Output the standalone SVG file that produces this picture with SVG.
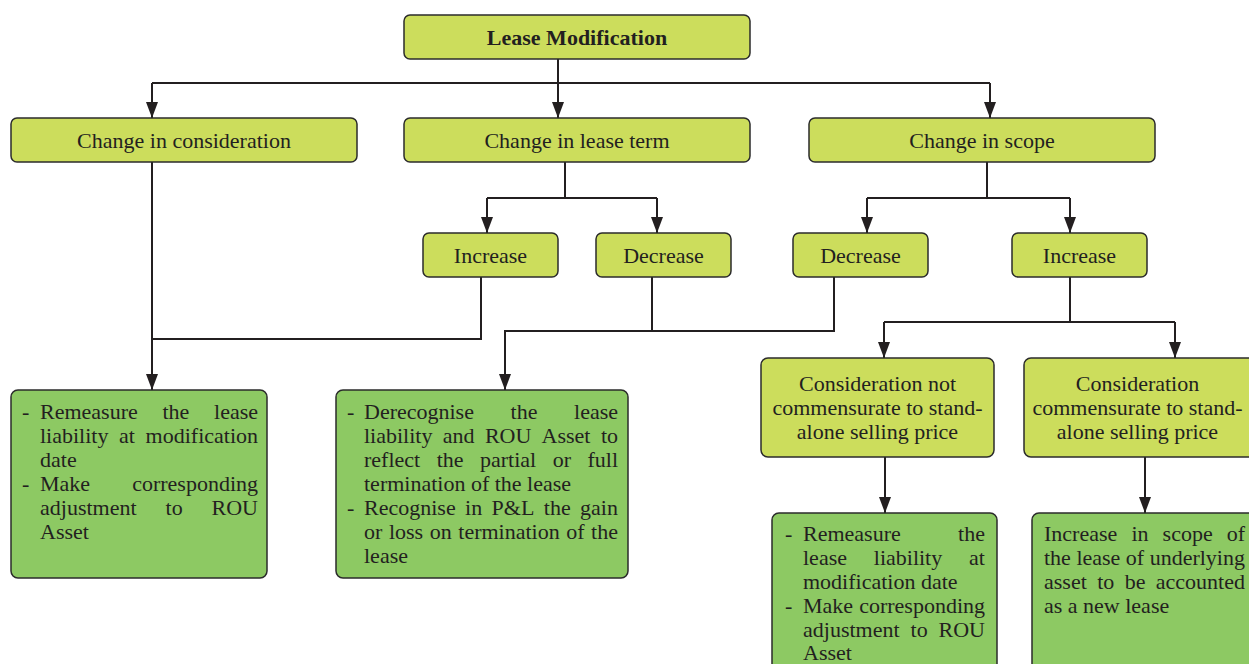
<svg xmlns="http://www.w3.org/2000/svg" width="1249" height="664" viewBox="0 0 1249 664">
<defs>
<style>
.lime{fill:#CCDD5C;stroke:#2b2b2b;stroke-width:1.5}
.grn{fill:#8DC963;stroke:#2b2b2b;stroke-width:1.5}
text{font-family:"Liberation Serif","Times New Roman",serif;font-size:22px;fill:#231F20}
.c{text-anchor:middle}
.e{text-anchor:end}
.b{font-weight:bold;font-size:22px}
.con{fill:none;stroke:#231F20;stroke-width:2}
</style>
<marker id="ar" viewBox="0 0 16 12" refX="16" refY="6" markerWidth="16" markerHeight="12" markerUnits="userSpaceOnUse" orient="auto">
<path d="M0,0 L16,6 L0,12 z" fill="#231F20"/>
</marker>
</defs>
<rect width="1249" height="664" fill="#fff"/>

<g id="connectors">
<path class="con" d="M558,59 V83 M152,83 H990"/>
<path class="con" d="M152,83 V118" marker-end="url(#ar)"/>
<path class="con" d="M558,83 V118" marker-end="url(#ar)"/>
<path class="con" d="M990,83 V118" marker-end="url(#ar)"/>
<path class="con" d="M152,162 V390" marker-end="url(#ar)"/>
<path class="con" d="M481,277 V339 H152"/>
<path class="con" d="M565,162 V198 M487,198 H657"/>
<path class="con" d="M487,198 V233" marker-end="url(#ar)"/>
<path class="con" d="M657,198 V233" marker-end="url(#ar)"/>
<path class="con" d="M652,277 V331"/>
<path class="con" d="M834,277 V331 H505 V390" marker-end="url(#ar)"/>
<path class="con" d="M987,162 V198 M867,198 H1070"/>
<path class="con" d="M867,198 V233" marker-end="url(#ar)"/>
<path class="con" d="M1070,198 V233" marker-end="url(#ar)"/>
<path class="con" d="M1070,277 V322 M884,322 H1175"/>
<path class="con" d="M884,322 V358" marker-end="url(#ar)"/>
<path class="con" d="M1175,322 V358" marker-end="url(#ar)"/>
<path class="con" d="M885,457 V513" marker-end="url(#ar)"/>
<path class="con" d="M1145,457 V513" marker-end="url(#ar)"/>
</g>

<g id="lease-modification">
<rect class="lime" x="404" y="15" width="346" height="44" rx="6"/>
<text class="c b" x="577" y="45">Lease Modification</text>
</g>

<g id="change-consideration">
<rect class="lime" x="11" y="118" width="346" height="44" rx="6"/>
<text class="c" x="184" y="148">Change in consideration</text>
</g>
<g id="change-term">
<rect class="lime" x="404" y="118" width="346" height="44" rx="6"/>
<text class="c" x="577" y="148">Change in lease term</text>
</g>
<g id="change-scope">
<rect class="lime" x="809" y="118" width="346" height="44" rx="6"/>
<text class="c" x="982" y="148">Change in scope</text>
</g>

<g id="term-increase">
<rect class="lime" x="423" y="233" width="135" height="44" rx="6"/>
<text class="c" x="490.5" y="263">Increase</text>
</g>
<g id="term-decrease">
<rect class="lime" x="596" y="233" width="135" height="44" rx="6"/>
<text class="c" x="663.5" y="263">Decrease</text>
</g>
<g id="scope-decrease">
<rect class="lime" x="793" y="233" width="135" height="44" rx="6"/>
<text class="c" x="860.5" y="263">Decrease</text>
</g>
<g id="scope-increase">
<rect class="lime" x="1012" y="233" width="135" height="44" rx="6"/>
<text class="c" x="1079.5" y="263">Increase</text>
</g>

<g id="not-commensurate">
<rect class="lime" x="761" y="358" width="233" height="99" rx="7"/>
<text class="c" x="877.5" y="391">Consideration not</text>
<text class="c" x="877.5" y="415">commensurate to stand-</text>
<text class="c" x="877.5" y="439">alone selling price</text>
</g>
<g id="commensurate">
<rect class="lime" x="1024" y="358" width="232" height="99" rx="7"/>
<text class="c" x="1137.5" y="391">Consideration</text>
<text class="c" x="1137.5" y="415">commensurate to stand-</text>
<text class="c" x="1137.5" y="439">alone selling price</text>
</g>

<g id="remeasure-left">
<rect class="grn" x="11" y="390" width="256" height="188" rx="7"/>
<text x="22" y="419">-</text>
<text y="419"><tspan x="40">Remeasure</tspan><tspan x="162.4">the</tspan></text>
<text class="e" x="258" y="419">lease</text>
<text y="443"><tspan x="40">liability</tspan><tspan x="119.1">at</tspan></text>
<text class="e" x="258" y="443">modification</text>
<text x="40" y="467">date</text>
<text x="22" y="491">-</text>
<text x="40" y="491">Make</text>
<text class="e" x="258" y="491">corresponding</text>
<text y="515"><tspan x="40">adjustment</tspan><tspan x="165.6">to</tspan></text>
<text class="e" x="258" y="515">ROU</text>
<text x="40" y="539">Asset</text>
</g>

<g id="derecognise">
<rect class="grn" x="336" y="390" width="292" height="188" rx="7"/>
<text x="347" y="419">-</text>
<text y="419"><tspan x="364">Derecognise</tspan><tspan x="510.6">the</tspan></text>
<text class="e" x="618" y="419">lease</text>
<text y="443"><tspan x="364">liability</tspan><tspan x="442.8">and</tspan><tspan x="484.9">ROU</tspan><tspan x="541.6">Asset</tspan></text>
<text class="e" x="618" y="443">to</text>
<text y="467"><tspan x="364">reflect</tspan><tspan x="436.7">the</tspan><tspan x="480">partial</tspan><tspan x="552.7">or</tspan></text>
<text class="e" x="618" y="467">full</text>
<text x="364" y="491">termination of the lease</text>
<text x="347" y="515">-</text>
<text y="515"><tspan x="364">Recognise</tspan><tspan x="465.1">in</tspan><tspan x="491.6">P&amp;L</tspan><tspan x="543.8">the</tspan></text>
<text class="e" x="618" y="515">gain</text>
<text y="539"><tspan x="364">or</tspan><tspan x="388.9">loss</tspan><tspan x="429.7">on</tspan><tspan x="458.3">termination</tspan><tspan x="566.3">of</tspan></text>
<text class="e" x="618" y="539">the</text>
<text x="364" y="563">lease</text>
</g>

<g id="remeasure-right">
<rect class="grn" x="772" y="513" width="225" height="190" rx="7"/>
<text x="785" y="541">-</text>
<text x="803" y="541">Remeasure</text>
<text class="e" x="985" y="541">the</text>
<text y="565"><tspan x="803">lease</tspan><tspan x="873.8">liability</tspan></text>
<text class="e" x="985" y="565">at</text>
<text x="803" y="589">modification date</text>
<text x="785" y="613">-</text>
<text x="803" y="613">Make</text>
<text class="e" x="985" y="613">corresponding</text>
<text y="637"><tspan x="803">adjustment</tspan><tspan x="910.6">to</tspan></text>
<text class="e" x="985" y="637">ROU</text>
<text x="803" y="660">Asset</text>
</g>

<g id="new-lease">
<rect class="grn" x="1032" y="513" width="230" height="190" rx="7"/>
<text y="541"><tspan x="1044">Increase</tspan><tspan x="1131.4">in</tspan><tspan x="1162.6">scope</tspan></text>
<text class="e" x="1245" y="541">of</text>
<text x="1044" y="565">the lease of underlying</text>
<text y="589"><tspan x="1044">asset</tspan><tspan x="1097.2">to</tspan><tspan x="1124.7">be</tspan></text>
<text class="e" x="1245" y="589">accounted</text>
<text x="1044" y="613">as a new lease</text>
</g>
</svg>
